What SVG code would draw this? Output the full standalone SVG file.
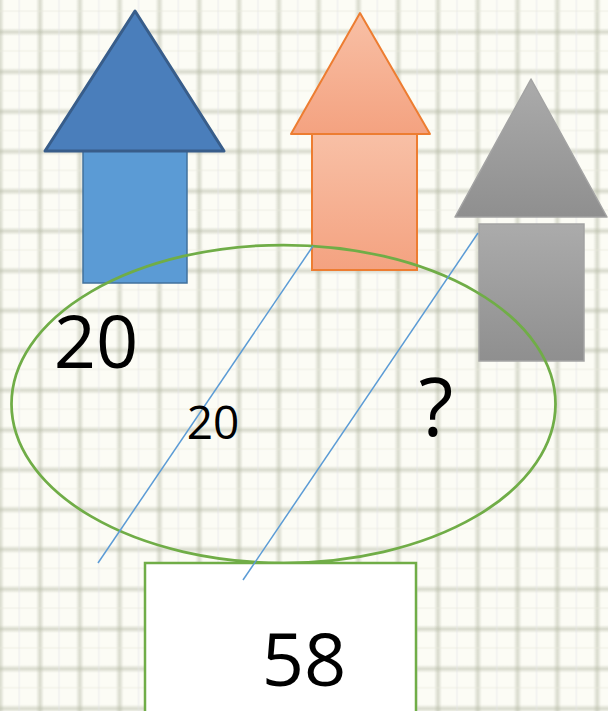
<svg xmlns="http://www.w3.org/2000/svg" width="608" height="711" viewBox="0 0 608 711">
<defs>
<style>
.num{font-family:"Open Sans","Noto Sans","DejaVu Sans",sans-serif;fill:#000}
.conn{stroke:#5b9bd5;stroke-width:1.5;fill:none}
</style>
<linearGradient id="gv" x1="0" y1="0" x2="1" y2="0">
<stop offset="0" stop-color="#b4b8a4" stop-opacity="0"/>
<stop offset="0.5" stop-color="#b4b8a4" stop-opacity="0.5"/>
<stop offset="1" stop-color="#b4b8a4" stop-opacity="0"/>
</linearGradient>
<linearGradient id="gh" x1="0" y1="0" x2="0" y2="1">
<stop offset="0" stop-color="#b4b8a4" stop-opacity="0"/>
<stop offset="0.5" stop-color="#b4b8a4" stop-opacity="0.5"/>
<stop offset="1" stop-color="#b4b8a4" stop-opacity="0"/>
</linearGradient>
<pattern id="grid" patternUnits="userSpaceOnUse" x="36" y="28" width="39.8" height="39.8">
<rect x="0" y="0" width="8" height="39.8" fill="url(#gv)"/>
<rect x="0" y="0" width="39.8" height="8" fill="url(#gh)"/>
<rect x="22" y="0" width="2" height="39.8" fill="#e2e3e6" opacity="0.35"/>
<rect x="0" y="22" width="39.8" height="2" fill="#e6e8dc" opacity="0.35"/>
</pattern>
<linearGradient id="orange" x1="0" y1="0" x2="0" y2="1">
<stop offset="0" stop-color="#f8c0a6"/>
<stop offset="1" stop-color="#f4a280"/>
</linearGradient>
<linearGradient id="gray" x1="0" y1="0" x2="0" y2="1">
<stop offset="0" stop-color="#ababab"/>
<stop offset="1" stop-color="#8f8f8f"/>
</linearGradient>
</defs>
<rect width="608" height="711" fill="#fcfcf5"/>
<rect width="608" height="711" fill="url(#grid)"/>

<g id="arrow-blue">
<rect x="83" y="151" width="104" height="132" fill="#5b9bd5" stroke="#41719c" stroke-width="1.5"/>
<polygon points="135,11 224,151 45,151" fill="#4a7ebb" stroke="#385d8a" stroke-width="3" stroke-linejoin="round"/>
</g>
<g id="arrow-orange">
<rect x="312" y="134" width="105" height="136" fill="url(#orange)" stroke="#ed7d31" stroke-width="2"/>
<polygon points="360,13 430,134 291,134" fill="url(#orange)" stroke="#ed7d31" stroke-width="2" stroke-linejoin="round"/>
</g>
<g id="arrow-gray">
<rect x="479" y="224" width="105" height="137" fill="url(#gray)" stroke="#a3a3a3" stroke-width="1.5"/>
<polygon points="531,79 607,217 455,217" fill="url(#gray)" stroke="#a3a3a3" stroke-width="1.5" stroke-linejoin="round"/>
</g>
<g id="ellipse">
<ellipse cx="283.5" cy="404" rx="272" ry="159" fill="none" stroke="#70ad47" stroke-width="2.75"/>
</g>
<g id="box-58">
<rect x="145" y="563" width="271" height="160" fill="#ffffff" stroke="#70ad47" stroke-width="2.5"/>
<text class="num" x="304" y="686" font-size="74" text-anchor="middle">58</text>
</g>
<g id="connectors">
<line class="conn" x1="313" y1="246" x2="98" y2="563"/>
<line class="conn" x1="478" y1="233" x2="243" y2="580"/>
</g>
<g id="labels">
<text class="num" x="96" y="368" font-size="74" text-anchor="middle">20</text>
<text class="num" x="213" y="439" font-size="46" text-anchor="middle">20</text>
<text class="num" x="436" y="436" font-size="80" text-anchor="middle">?</text>
</g>
</svg>
